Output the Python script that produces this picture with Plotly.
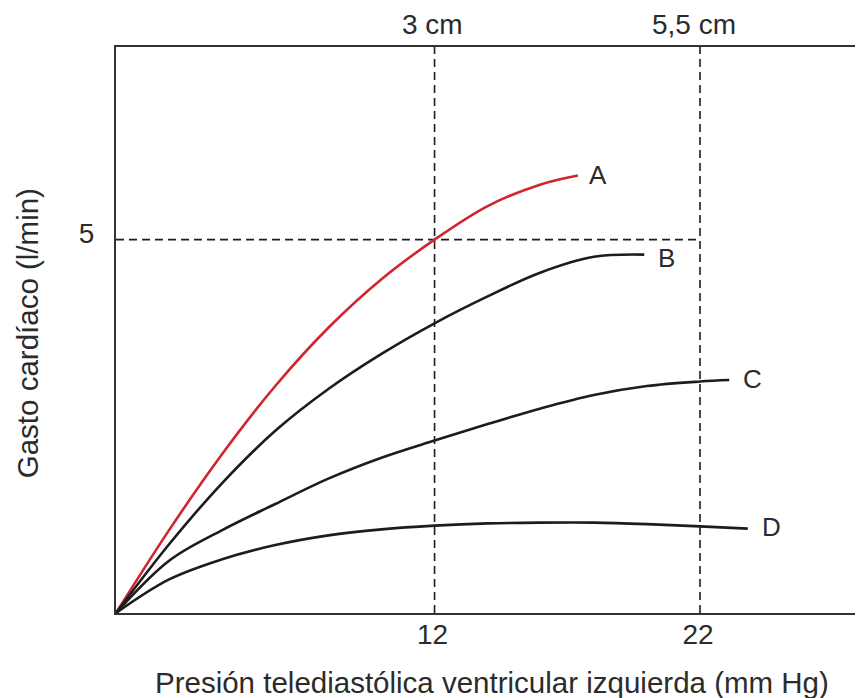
import plotly.graph_objects as go

# Presión telediastólica (mm Hg) vs Gasto cardíaco (l/min)
pres_A = [0, 2, 4, 6, 8, 10, 12, 14, 16, 17.4]
gasto_A = [0, 1.11, 2.13, 3.04, 3.82, 4.47, 5.00, 5.45, 5.74, 5.86]

pres_B = [0, 2, 4, 6, 8, 10, 12, 14, 16, 18, 19.9]
gasto_B = [0, 0.92, 1.74, 2.44, 3.00, 3.47, 3.88, 4.24, 4.56, 4.77, 4.80]

pres_C = [0, 2, 4, 6, 8, 10, 12, 14, 16, 18, 20, 22, 23.1]
gasto_C = [0, 0.70, 1.11, 1.46, 1.80, 2.08, 2.31, 2.53, 2.74, 2.92, 3.04, 3.10, 3.12]

pres_D = [0, 2, 4, 6, 8, 10, 12, 14, 16, 18, 20, 22, 23.8]
gasto_D = [0, 0.45, 0.72, 0.91, 1.04, 1.12, 1.17, 1.20, 1.21, 1.21, 1.19, 1.16, 1.13]

curve_names = ["A", "B", "C", "D"]
label_x = [18.15, 20.75, 23.98, 24.70]
label_y = [5.86, 4.76, 3.14, 1.15]

x_ticks = [12, 22]
x_ticktext = ["12", "22"]
top_ticktext = ["3 cm", "5,5 cm"]
y_ticks = [5]
y_ticktext = ["5"]
ref_y = 5

X_RANGE = [0, 28.14]
Y_RANGE = [0, 7.58]

FONT = "Liberation Sans, Arial, Helvetica, sans-serif"
TXT = "#2b2b2b"
BLACK = "#1c1c1c"
RED = "#d0242e"

fig = go.Figure()
series = [(pres_A, gasto_A, RED), (pres_B, gasto_B, BLACK),
          (pres_C, gasto_C, BLACK), (pres_D, gasto_D, BLACK)]
for (xs, ys, col), name in zip(series, curve_names):
    fig.add_trace(go.Scatter(x=xs, y=ys, mode="lines", name=name,
                             line=dict(color=col, width=2.6, shape="spline", smoothing=1.0),
                             showlegend=False, hoverinfo="skip"))

dash = "8px,5px"
for xv in x_ticks:
    fig.add_shape(type="line", xref="x", yref="y", x0=xv, x1=xv, y0=Y_RANGE[0], y1=Y_RANGE[1],
                  line=dict(color=BLACK, width=1.6, dash=dash), layer="below")
fig.add_shape(type="line", xref="x", yref="y", x0=0, x1=x_ticks[1], y0=ref_y, y1=ref_y,
              line=dict(color=BLACK, width=1.6, dash=dash), layer="below")

for name, lx, ly in zip(curve_names, label_x, label_y):
    fig.add_annotation(x=lx, y=ly, xref="x", yref="y", text=name, showarrow=False,
                       font=dict(family=FONT, size=26, color=TXT), xanchor="center", yanchor="middle")

for xv, t, sh in zip(x_ticks, top_ticktext, [-2, -6]):
    fig.add_annotation(x=xv, y=1.039, xref="x", yref="paper", text=t, showarrow=False,
                       xshift=sh, font=dict(family=FONT, size=28, color=TXT),
                       xanchor="center", yanchor="middle")

fig.add_annotation(x=0.503, y=-0.122, xref="paper", yref="paper",
                   text="Presión telediastólica ventricular izquierda (mm Hg)", showarrow=False,
                   font=dict(family=FONT, size=29.5, color=TXT), xanchor="center", yanchor="middle")
fig.add_annotation(x=-0.118, y=0.494, xref="paper", yref="paper",
                   text="Gasto cardíaco (l/min)", showarrow=False, textangle=-90,
                   font=dict(family=FONT, size=29.5, color=TXT), xanchor="center", yanchor="middle")

# page body has an 8px margin, so the figure is 8px smaller and margins compensate
fig.update_layout(
    width=855, height=690,
    margin=dict(l=108, r=0, t=39, b=85),
    paper_bgcolor="white", plot_bgcolor="white",
    xaxis=dict(range=X_RANGE, showgrid=False, zeroline=False, showline=True, mirror=True,
               linecolor="#333333", linewidth=2, tickvals=x_ticks, ticktext=x_ticktext,
               ticks="", ticklabelstandoff=-5, ticklabelshift=-2,
               tickfont=dict(family=FONT, size=28, color=TXT)),
    yaxis=dict(range=Y_RANGE, showgrid=False, zeroline=False, showline=True, mirror=False,
               linecolor="#333333", linewidth=2, tickvals=y_ticks, ticktext=y_ticktext,
               ticks="", ticklabelstandoff=14, ticklabelshift=-6,
               tickfont=dict(family=FONT, size=28, color=TXT)),
)

fig.write_html("out.html")
